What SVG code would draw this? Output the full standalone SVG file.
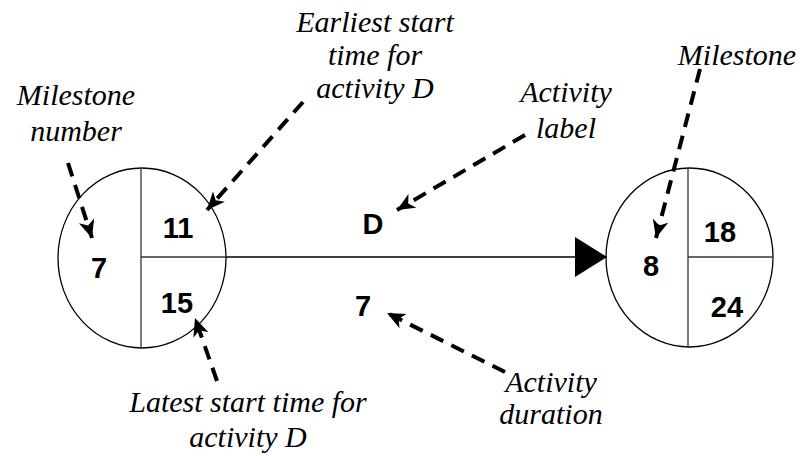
<svg xmlns="http://www.w3.org/2000/svg" width="803" height="456" viewBox="0 0 803 456">
<defs>
<marker id="barb" markerUnits="userSpaceOnUse" markerWidth="24" markerHeight="20" refX="18" refY="8" orient="auto" viewBox="0 0 24 20">
<path d="M0,0 L18,8 L0,16 L5,8 Z" fill="#000"/>
</marker>
<marker id="tri" markerUnits="userSpaceOnUse" markerWidth="34" markerHeight="42" refX="32" refY="20" orient="auto" viewBox="0 0 34 42">
<path d="M0,0 L32,20 L0,40 Z" fill="#000"/>
</marker>
</defs>

<g id="milestone7" font-family="Liberation Sans" font-weight="bold" font-size="29" text-anchor="middle">
<ellipse cx="142" cy="258" rx="84" ry="90" fill="#fff" stroke="#000" stroke-width="1.3"/>
<line x1="141" y1="168" x2="141" y2="348" stroke="#333" stroke-width="1.3"/>
<line x1="141" y1="257" x2="226" y2="257" stroke="#333" stroke-width="1.3"/>
<text x="99" y="278">7</text>
<text x="178" y="238">11</text>
<text x="177" y="313">15</text>
</g>

<g id="milestone8" font-family="Liberation Sans" font-weight="bold" font-size="29" text-anchor="middle">
<ellipse cx="689.5" cy="257.5" rx="83.5" ry="89.5" fill="#fff" stroke="#000" stroke-width="1.3"/>
<line x1="688" y1="168" x2="688" y2="347" stroke="#333" stroke-width="1.3"/>
<line x1="688" y1="257" x2="773" y2="257" stroke="#333" stroke-width="1.3"/>
<text x="651" y="276">8</text>
<text x="720" y="242">18</text>
<text x="727" y="317">24</text>
</g>

<g id="activity" font-family="Liberation Sans" font-weight="bold" font-size="29" text-anchor="middle">
<text x="373" y="234">D</text>
<text x="363" y="316">7</text>
</g>

<g id="connectors" fill="none" stroke="#000">
<line x1="226" y1="257" x2="607" y2="257" stroke-width="1.3" marker-end="url(#tri)"/>
<g stroke-width="4" stroke-dasharray="14 9">
<line x1="68" y1="163" x2="92" y2="238" marker-end="url(#barb)"/>
<line x1="303" y1="102" x2="207" y2="210" marker-end="url(#barb)"/>
<line x1="525" y1="135" x2="397" y2="210" marker-end="url(#barb)"/>
<line x1="700" y1="69" x2="656" y2="238" marker-end="url(#barb)"/>
<line x1="217" y1="381" x2="195" y2="318" marker-end="url(#barb)"/>
<line x1="505" y1="372" x2="387" y2="313" marker-end="url(#barb)"/>
</g>
</g>

<g id="notes" font-family="Times New Roman, serif" font-style="italic" font-size="30" text-anchor="middle">
<g id="note-milestone-number">
<text x="76" y="105">Milestone</text>
<text x="76" y="141">number</text>
</g>
<g id="note-earliest">
<text x="375" y="32">Earliest start</text>
<text x="375" y="65">time for</text>
<text x="375" y="98">activity D</text>
</g>
<g id="note-activity-label">
<text x="566" y="102">Activity</text>
<text x="566" y="138">label</text>
</g>
<g id="note-milestone">
<text x="737" y="65">Milestone</text>
</g>
<g id="note-latest">
<text x="248" y="412">Latest start time for</text>
<text x="248" y="447">activity D</text>
</g>
<g id="note-activity-duration">
<text x="551" y="392">Activity</text>
<text x="551" y="424">duration</text>
</g>
</g>
</svg>
